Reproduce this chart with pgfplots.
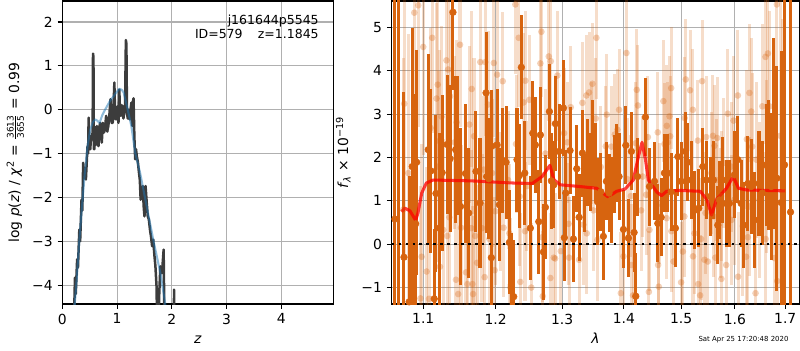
\documentclass[border=0pt]{standalone}
\usepackage{fontspec}
\setmainfont{DejaVu Sans}
\usepackage{pgfplots}
\usepackage{pgfplotstable}
\pgfplotsset{compat=1.18}
\definecolor{dorange}{RGB}{215,100,15}
\definecolor{pzblue}{RGB}{31,119,180}
\definecolor{pzgray}{RGB}{60,60,60}
\definecolor{gridgray}{RGB}{176,176,176}

\pgfplotstableread{
z lp
0.200 -5.5
0.230 -3.83
0.245 -4.20
0.270 -3.41
0.285 -3.60
0.310 -2.73
0.325 -3.00
0.350 -2.05
0.365 -2.30
0.380 -1.21
0.400 -1.50
0.430 -1.59
0.445 -1.20
0.460 -0.83
0.470 -1.00
0.480 -0.18
0.495 -0.90
0.510 -0.90
0.525 -0.60
0.540 -0.68
0.553 -0.50
0.560 1.28
0.568 1.20
0.575 -0.90
0.585 -0.90
0.600 -0.40
0.615 -0.80
0.630 -0.37
0.645 -0.70
0.660 -0.83
0.675 -0.40
0.690 -0.30
0.705 -0.60
0.720 -0.75
0.740 -0.30
0.760 -0.52
0.780 -0.40
0.800 -0.14
0.820 -0.50
0.840 -0.37
0.860 -0.10
0.880 0.24
0.900 -0.30
0.920 -0.30
0.935 0.10
0.950 0.62
0.965 -0.20
0.980 -0.22
0.995 -0.05
1.010 0.08
1.025 -0.30
1.040 0.46
1.055 -0.10
1.070 -0.14
1.085 0.10
1.100 0.08
1.115 -0.20
1.130 -0.07
1.145 0.00
1.160 1.59
1.170 1.50
1.180 -0.07
1.195 -0.20
1.210 0.00
1.230 -0.22
1.245 0.00
1.260 0.16
1.270 -0.30
1.280 -0.37
1.290 0.20
1.300 0.26
1.315 -0.60
1.330 -1.13
1.345 -0.90
1.360 -1.06
1.380 -1.20
1.400 -1.44
1.415 -1.60
1.430 -2.05
1.450 -1.90
1.470 -1.74
1.485 -2.20
1.500 -2.43
1.520 -1.74
1.540 -2.10
1.560 -2.43
1.580 -2.50
1.600 -2.73
1.620 -2.90
1.640 -3.11
1.660 -2.96
1.680 -3.30
1.700 -3.57
1.720 -4.02
1.740 -5.50
1.770 -4.20
1.790 -3.57
1.820 -3.72
1.850 -3.19
1.870 -5.50
1.950 -6.00
2.035 -5.50
2.040 -4.10
2.045 -5.50
2.100 -6.00
}\pzdata

\pgfplotstableread{
z lp
0.190 -5.0
0.260 -3.90
0.320 -2.80
0.410 -1.44
0.460 -0.83
0.510 -0.45
0.560 -0.28
0.600 -0.22
0.640 -0.25
0.680 -0.30
0.730 -0.12
0.780 0.00
0.870 0.20
0.960 0.35
1.040 0.48
1.090 0.45
1.120 0.39
1.180 0.08
1.260 -0.37
1.330 -0.98
1.420 -1.44
1.540 -2.20
1.660 -2.96
1.790 -3.72
1.880 -4.43
1.930 -5.0
}\pzsmooth

\pgfplotstableread{
x y e
1.0632 0.58 6.5
1.0675 6.80 8.5
1.0748 -0.30 3.8
1.0815 -1.33 2.9
1.0855 1.79 3.2
1.0900 0.47 3.0
1.0913 1.89 2.6
1.1066 2.18 2.2
1.1102 1.69 1.9
1.1146 -1.26 1.6
1.1169 1.17 1.8
1.1213 0.37 2.2
1.1253 1.65 1.8
1.1320 2.30 1.6
1.1360 1.97 1.7
1.1400 5.35 1.8
1.1437 2.18 1.7
1.1468 2.28 1.6
1.1504 0.87 1.8
1.1573 1.63 1.6
1.1618 0.72 1.5
1.1720 1.68 1.4
1.1777 0.95 1.5
1.1863 3.49 1.4
1.1872 1.56 1.3
1.1901 1.51 1.4
1.1939 -0.31 1.3
1.1944 2.26 1.3
1.2021 2.29 1.3
1.2054 0.91 1.3
1.2103 1.93 1.2
1.2151 1.89 1.3
1.2200 0.04 1.2
1.2229 -0.94 1.2
1.2264 -1.21 1.3
1.2313 1.95 1.2
1.2347 1.58 1.2
1.2377 4.08 1.2
1.2428 1.64 1.2
1.2512 0.37 1.2
1.2548 2.56 1.2
1.2587 2.29 1.1
1.2639 0.52 1.2
1.2664 2.52 1.1
1.2710 -0.18 1.1
1.2740 0.85 1.2
1.2802 3.06 1.1
1.2832 1.46 1.1
1.2869 1.37 1.0
1.2894 2.78 1.1
1.2951 2.14 1.1
1.3019 3.14 1.1
1.3034 0.15 1.0
1.3056 1.18 1.0
1.3124 2.16 1.0
1.3177 0.12 1.0
1.3230 1.74 1.0
1.3267 0.62 1.0
1.3320 2.10 1.0
1.3358 1.19 0.9
1.3400 1.89 1.0
1.3443 1.66 0.9
1.3481 2.32 1.0
1.3537 1.89 0.9
1.3563 0.98 1.0
1.3618 1.21 0.9
1.3660 0.18 1.0
1.3710 1.45 0.9
1.3754 1.18 0.9
1.3793 1.02 1.0
1.3838 1.63 0.9
1.3883 1.87 0.9
1.3921 1.56 1.0
1.3994 0.34 0.9
1.4034 2.28 0.9
1.4078 0.14 0.9
1.4128 2.14 0.9
1.4175 0.27 0.9
1.4204 -1.20 1.0
1.4233 1.56 0.9
1.4369 2.93 0.9
1.4439 1.33 0.9
1.4527 1.45 0.9
1.4584 0.48 0.9
1.4643 0.62 0.9
1.4701 1.64 0.9
1.4762 1.64 0.9
1.4821 1.21 0.9
1.4897 0.37 0.9
1.4940 2.02 0.9
1.4999 1.45 0.9
1.5077 2.14 0.9
1.5121 1.89 0.9
1.5180 1.48 0.9
1.5241 0.78 0.9
1.5322 0.83 0.9
1.5396 1.79 0.9
1.5458 1.48 0.9
1.5532 1.10 0.9
1.5594 1.48 0.9
1.5676 0.44 0.9
1.5706 1.02 0.9
1.5770 1.48 1.0
1.5834 0.94 1.0
1.5897 0.94 1.0
1.5993 1.60 1.0
1.6058 1.95 1.0
1.6122 0.94 1.0
1.6168 0.44 1.0
1.6253 1.40 1.1
1.6319 1.33 1.1
1.6385 0.56 1.1
1.6472 1.40 1.2
1.6537 1.18 1.2
1.6616 1.83 1.4
1.6669 1.83 1.5
1.6715 1.33 1.7
1.6769 2.56 2.2
1.6830 1.52 2.6
1.6917 0.96 3.5
1.6985 1.83 5.0
1.7108 0.74 8.0
}\darkdata

\pgfplotstableread{
x y e
1.0751 3.24 3.5
1.0739 0.80 3.5
1.0804 1.64 3.2
1.0860 1.21 3.0
1.0882 5.34 3.0
1.0934 5.51 2.8
1.0963 -1.25 2.6
1.0979 -0.29 2.6
1.1000 4.55 2.5
1.1045 -0.63 2.4
1.1076 -1.26 2.3
1.1098 2.68 2.3
1.1119 4.76 2.2
1.1177 3.36 2.2
1.1193 3.68 2.2
1.1200 1.79 2.2
1.1214 2.38 2.1
1.1223 -0.52 2.1
1.1246 2.94 2.1
1.1268 0.33 2.1
1.1311 4.24 2.0
1.1320 0.19 2.0
1.1333 4.03 2.0
1.1350 0.62 2.0
1.1360 3.41 2.0
1.1424 2.35 2.0
1.1441 -0.82 2.0
1.1451 2.81 1.9
1.1472 -1.15 1.9
1.1497 4.60 1.9
1.1511 0.38 1.9
1.1580 -0.65 1.9
1.1601 -0.92 1.9
1.1627 2.76 1.8
1.1653 0.37 1.8
1.1660 3.58 1.8
1.1670 -0.92 1.8
1.1679 -1.15 1.8
1.1692 2.49 1.8
1.1708 0.19 1.8
1.1735 -0.43 1.8
1.1781 4.20 1.8
1.1805 0.37 1.7
1.1829 1.72 1.7
1.1843 -0.76 1.7
1.1852 4.20 1.7
1.1891 3.22 1.7
1.1910 0.12 1.7
1.1949 1.64 1.7
1.1974 4.18 1.7
1.1986 -0.60 1.7
1.1995 0.76 1.7
1.2021 3.91 1.7
1.2068 0.98 1.6
1.2103 3.76 1.6
1.2115 0.38 1.6
1.2181 1.48 1.6
1.2200 0.25 1.6
1.2215 -1.00 1.6
1.2288 5.53 1.6
1.2298 2.31 1.6
1.2338 4.76 1.6
1.2353 1.10 1.6
1.2361 -0.87 1.6
1.2412 3.27 1.6
1.2432 0.30 1.6
1.2437 3.77 1.6
1.2461 1.34 1.5
1.2497 3.33 1.5
1.2526 -1.00 1.5
1.2664 4.17 1.5
1.2679 4.90 1.5
1.2689 0.16 1.5
1.2700 -1.20 1.5
1.2741 2.09 1.5
1.2792 4.33 1.5
1.2817 -0.78 1.5
1.2823 4.22 1.5
1.2869 -0.31 1.5
1.2889 -0.33 1.5
1.2925 3.89 1.5
1.2978 -0.16 1.5
1.3030 2.56 1.5
1.3082 2.35 1.4
1.3100 0.47 1.4
1.3108 -0.31 1.4
1.3135 3.16 1.4
1.3267 -0.36 1.4
1.3320 3.26 1.4
1.3336 0.45 1.4
1.3384 3.43 1.4
1.3390 0.25 1.4
1.3427 3.50 1.4
1.3465 2.33 1.4
1.3481 3.70 1.4
1.3497 0.78 1.4
1.3537 2.90 1.4
1.3546 4.76 1.4
1.3563 0.10 1.4
1.3618 1.78 1.4
1.3700 2.26 1.4
1.3717 2.99 1.4
1.3793 2.25 1.4
1.3850 2.53 1.4
1.3893 2.64 1.4
1.3921 3.10 1.4
1.3950 -1.13 1.4
1.3994 -0.28 1.4
1.4044 4.41 1.4
1.4061 1.50 1.4
1.4118 1.11 1.4
1.4125 -0.48 1.4
1.4156 -1.18 1.4
1.4204 2.33 1.4
1.4221 3.56 1.4
1.4240 3.20 1.4
1.4295 0.78 1.4
1.4324 1.56 1.4
1.4381 1.14 1.4
1.4411 2.47 1.4
1.4429 -1.10 1.4
1.4439 0.33 1.4
1.4584 2.58 1.4
1.4590 -0.48 1.4
1.4602 -0.98 1.4
1.4613 0.94 1.4
1.4683 3.30 1.4
1.4701 2.31 1.4
1.4741 0.60 1.4
1.4744 2.73 1.4
1.4762 2.35 1.4
1.4791 2.95 1.4
1.4803 2.49 1.4
1.4821 3.60 1.4
1.4825 0.30 1.4
1.4862 -0.40 1.4
1.4999 -0.88 1.4
1.5031 -0.17 1.4
1.5059 0.64 1.4
1.5063 2.91 1.4
1.5084 3.80 1.4
1.5162 3.55 1.4
1.5212 3.10 1.4
1.5215 -0.28 1.4
1.5241 0.25 1.4
1.5304 2.39 1.4
1.5310 -0.92 1.4
1.5346 -1.18 1.4
1.5364 0.12 1.4
1.5383 3.76 1.4
1.5426 -0.36 1.4
1.5445 0.72 1.4
1.5458 2.47 1.4
1.5489 -0.40 1.4
1.5551 1.64 1.4
1.5583 2.50 1.4
1.5590 0.64 1.4
1.5613 2.27 1.4
1.5630 -0.31 1.4
1.5645 1.48 1.4
1.5664 2.45 1.4
1.5719 0.72 1.5
1.5738 1.11 1.5
1.5745 -0.80 1.5
1.5783 1.87 1.5
1.5834 -0.48 1.5
1.5866 3.01 1.5
1.5930 1.79 1.5
1.5935 0.56 1.5
1.5975 2.85 1.5
1.5993 1.03 1.5
1.6058 3.43 1.5
1.6062 -0.75 1.5
1.6155 0.41 1.6
1.6220 -0.29 1.6
1.6233 2.42 1.6
1.6253 0.16 1.6
1.6284 3.49 1.6
1.6290 0.87 1.6
1.6319 3.06 1.7
1.6338 2.25 1.7
1.6404 -1.13 1.7
1.6418 1.95 1.8
1.6483 1.02 1.8
1.6537 3.18 1.9
1.6601 4.32 2.0
1.6605 0.12 2.0
1.6616 1.79 2.0
1.6649 4.40 2.1
1.6681 3.18 2.2
1.6781 -0.32 2.5
1.6830 5.53 2.8
1.6835 -0.85 2.8
1.6900 2.50 3.5
1.6950 1.20 4.0
}\lightdata

\pgfplotstableread{
x y
1.0716 0.75
1.0760 0.83
1.0825 0.77
1.0900 0.55
1.0930 0.72
1.0980 1.18
1.1040 1.41
1.1130 1.48
1.1660 1.46
1.2270 1.41
1.2540 1.40
1.2690 1.56
1.2810 1.82
1.2870 1.49
1.2970 1.37
1.3280 1.33
1.3550 1.29
1.3740 1.09
1.3880 1.22
1.4020 1.27
1.4160 1.48
1.4250 2.03
1.4310 2.35
1.4370 1.95
1.4420 1.48
1.4570 1.20
1.4650 1.12
1.4740 1.22
1.4980 1.24
1.5350 1.22
1.5470 1.03
1.5560 0.67
1.5650 1.03
1.5840 1.29
1.5970 1.56
1.6070 1.29
1.6230 1.25
1.7000 1.23
}\modeldata

\begin{document}
\begin{tikzpicture}
\useasboundingbox (0,0) rectangle (576pt,252pt);
\pgfplotsset{
  every axis/.append style={
    scale only axis,
    anchor=south west,
    axis line style={line width=0.8pt, black},
    tick align=outside,
    major tick length=3.5pt,
    tick style={line width=0.8pt, black},
    xtick pos=left, ytick pos=left,
    grid=major,
    grid style={color=gridgray, line width=0.8pt},
    ticklabel style={font=\fontsize{10}{12}\selectfont},
    label style={font=\fontsize{10}{12}\selectfont},
  }
}
% left panel
\begin{axis}[
  at={(44.9pt,33.1pt)},
  width=195.1pt, height=218.2pt,
  xmin=0, xmax=4.95, ymin=-4.43, ymax=2.48,
  xtick={0,1,2,3,4}, xticklabels={0,1,2,3,4},
  ytick={-4,-3,-2,-1,0,1,2}, yticklabels={−4,−3,−2,−1,0,1,2},
  xlabel={\textit{z}},
  xlabel style={at={(axis description cs:0.5,0)}, anchor=base, yshift=-28.1pt},
  ylabel={log \textit{p}(\textit{z}) / \textit{χ}\textsuperscript{2} = $\frac{\hbox{\fontsize{6.5}{7}\selectfont 3613}}{\hbox{\fontsize{6.5}{7}\selectfont 3655}}$ = 0.99},
  ylabel style={at={(axis description cs:-0.160,0.5)}, anchor=base},
]
\addplot[color=pzgray, line width=1.8pt, line join=round] table[x=z, y=lp] {\pzdata};
\addplot[color=pzblue, opacity=0.5, line width=1.5pt, line join=round] table[x=z, y=lp] {\pzsmooth};
\node[anchor=base east, inner sep=0pt, font=\fontsize{9}{11}\selectfont] at (rel axis cs:0.947,0.923) {j161644p5545};
\node[anchor=base east, inner sep=0pt, font=\fontsize{9}{11}\selectfont] at (rel axis cs:0.947,0.875) {ID=579\hspace{11pt}z=1.1845};
\end{axis}
% right panel
\begin{axis}[
  at={(282.0pt,33.1pt)},
  width=293.5pt, height=218.2pt,
  xmode=log,
  xmin=1.059, xmax=1.729, ymin=-1.38, ymax=5.61,
  xtick={1.1,1.2,1.3,1.4,1.5,1.6,1.7}, xticklabels={1.1,1.2,1.3,1.4,1.5,1.6,1.7},
  minor xtick={},
  ytick={-1,0,1,2,3,4,5}, yticklabels={−1,0,1,2,3,4,5},
  xlabel={\textit{λ}},
  xlabel style={at={(axis description cs:0.5,0)}, anchor=base, yshift=-28.1pt},
  ylabel={\textit{f}\textsubscript{\textit{λ}} × 10\textsuperscript{−19}},
  ylabel style={at={(axis description cs:-0.107,0.5)}, anchor=base},
]
\addplot[only marks, mark=*, mark size=2.4pt, color=dorange,
  mark options={draw opacity=0, fill=dorange, fill opacity=0.3},
  error bars/.cd, y dir=both, y explicit, error mark=none,
  error bar style={line width=2.2pt, color=dorange, opacity=0.22}]
  table[x=x, y=y, y error=e] {\lightdata};
\addplot[only marks, mark=*, mark size=2.4pt, color=dorange,
  mark options={draw=dorange, fill=dorange},
  error bars/.cd, y dir=both, y explicit, error mark=none,
  error bar style={line width=2.2pt, color=dorange}]
  table[x=x, y=y, y error=e] {\darkdata};
\addplot[black, line width=1.6pt, dash pattern=on 1.8pt off 3.2pt] coordinates {(1.059,0) (1.729,0)};
\addplot[red, opacity=0.75, line width=2.2pt, line join=round] table[x=x, y=y] {\modeldata};
\end{axis}
\node[font=\fontsize{5}{6}\selectfont] at (535.3pt,7.6pt) {Sat Apr 25 17:20:48 2020};
\end{tikzpicture}
\end{document}
